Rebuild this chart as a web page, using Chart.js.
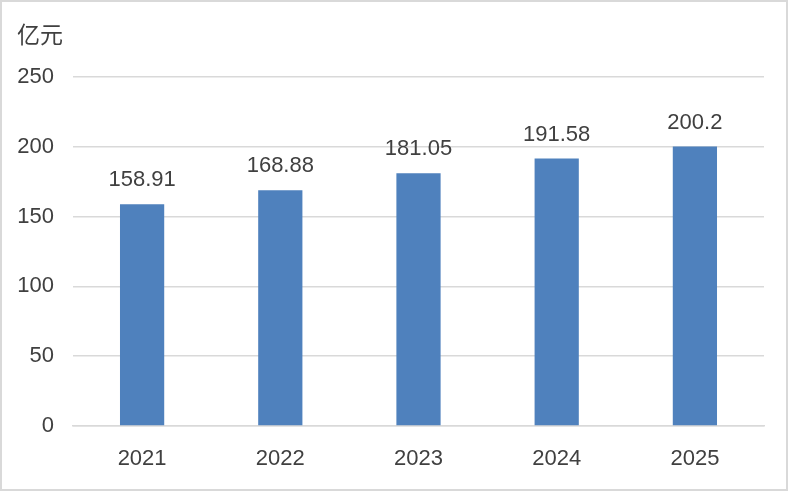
<!DOCTYPE html>
<html>
<head>
<meta charset="utf-8">
<script src="https://cdn.jsdelivr.net/npm/chart.js@4"></script>
<style>
  html, body { margin: 0; padding: 0; background: #fff; }
  #wrap { width: 788px; height: 491px; position: relative; }
</style>
</head>
<body>
<div id="wrap"><canvas id="chart"></canvas></div>
<script>
var years = ['2021', '2022', '2023', '2024', '2025'];
var revenue = [158.91, 168.88, 181.05, 191.58, 200.2];
var unitLabel = '亿元';

var textColor = '#404040';
var gridColor = '#D9D9D9';
var latinFont = '"Liberation Sans", Arial, sans-serif';

// outer frame + unit text
var framePlugin = {
    id: 'frame',
    beforeDraw(chart) {
        const ctx = chart.ctx;
        ctx.save();
        ctx.fillStyle = '#FFFFFF';
        ctx.fillRect(0, 0, chart.width, chart.height);
        ctx.strokeStyle = gridColor;
        ctx.lineWidth = 2;
        ctx.strokeRect(1, 1, chart.width - 2, chart.height - 2);
        ctx.restore();
    },
    afterDraw(chart) {
        const ctx = chart.ctx;
        ctx.save();
        ctx.fillStyle = textColor;
        ctx.font = '23px "Noto Sans CJK SC", sans-serif';
        ctx.textAlign = 'left';
        ctx.textBaseline = 'middle';
        ctx.fillText(unitLabel, 17, 34);
        ctx.restore();
    }
};

// value labels above the bars
var valueLabels = {
    id: 'valueLabels',
    afterDatasetsDraw(chart) {
        const ctx = chart.ctx;
        const meta = chart.getDatasetMeta(0);
        ctx.save();
        ctx.fillStyle = textColor;
        ctx.font = '22px ' + latinFont;
        ctx.textAlign = 'center';
        ctx.textBaseline = 'alphabetic';
        meta.data.forEach((bar, i) => {
            ctx.fillText(String(revenue[i]), bar.x, bar.y - 18);
        });
        ctx.restore();
    }
};

var config = {
    type: 'bar',
    data: {
        labels: years,
        datasets: [{
            data: revenue,
            backgroundColor: '#4F81BD',
            borderWidth: 0,
            categoryPercentage: 1,
            barPercentage: 0.32
        }]
    },
    options: {
        responsive: true,
        maintainAspectRatio: false,
        animation: false,
        layout: { padding: { top: 77, right: 24, bottom: 0, left: 0 } },
        plugins: { legend: { display: false }, tooltip: { enabled: false } },
        scales: {
            x: {
                grid: { display: false, drawTicks: false },
                border: { display: true, color: gridColor, width: 1.5 },
                ticks: { color: textColor, font: { family: latinFont, size: 22 }, padding: 20 },
                afterFit(scale) { scale.height = 65; }
            },
            y: {
                min: 0,
                max: 250,
                grid: { color: gridColor, lineWidth: 1.5, drawTicks: false },
                border: { display: false },
                ticks: { stepSize: 50, color: textColor, font: { family: latinFont, size: 22 }, padding: 19 },
                afterFit(scale) { scale.width = 73; }
            }
        }
    },
    plugins: [framePlugin, valueLabels]
};

var chart = new Chart(document.getElementById('chart'), config);
</script>
</body>
</html>
